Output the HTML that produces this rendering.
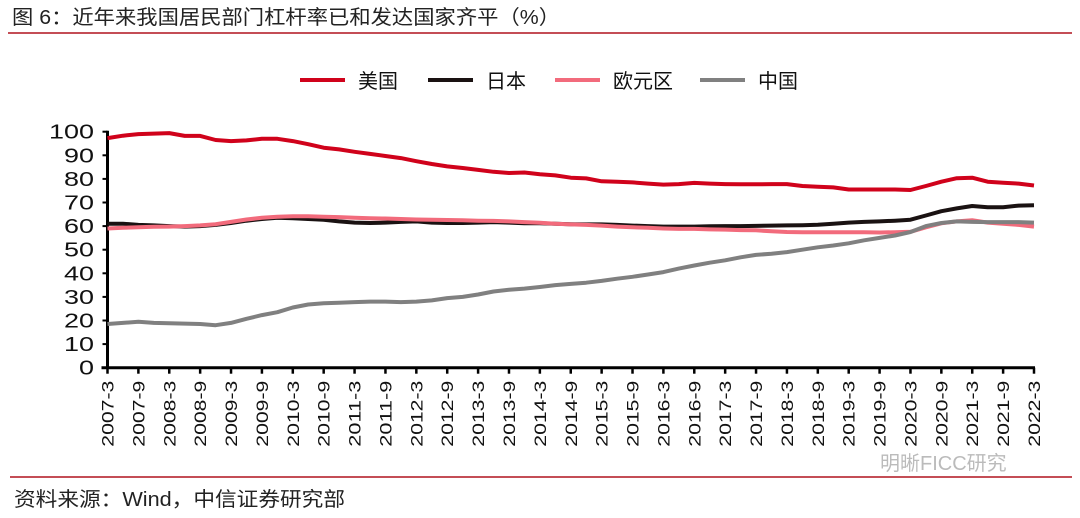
<!DOCTYPE html>
<html><head><meta charset="utf-8">
<style>
body{margin:0;background:#fff;width:1080px;height:518px;overflow:hidden;font-family:"Liberation Sans","Noto Sans CJK SC",sans-serif;}
svg{display:block}
</style></head>
<body>
<svg id="chart" width="1080" height="518">
<text x="12" y="24" font-size="20" fill="#222" textLength="548" lengthAdjust="spacingAndGlyphs" font-family="Liberation Sans, Noto Sans CJK SC, sans-serif">图 6：近年来我国居民部门杠杆率已和发达国家齐平（%）</text>
<line x1="8" y1="33" x2="1072" y2="33" stroke="#b0141e" stroke-width="1.5"/>
<line x1="10" y1="477" x2="1072" y2="477" stroke="#b0141e" stroke-width="1.5"/>
<text x="14" y="506" font-size="20" fill="#222" textLength="331" lengthAdjust="spacingAndGlyphs" font-family="Liberation Sans, Noto Sans CJK SC, sans-serif">资料来源：Wind，中信证券研究部</text>
<text x="880" y="470" font-size="20" fill="#bbb" font-family="Liberation Sans, Noto Sans CJK SC, sans-serif">明晰FICC研究</text>
<g id="legend"></g>
<g id="axes"></g>
<g id="series"></g>
</svg>
<script>
const seriesNames=["美国","日本","欧元区","中国"];
const usData=[97.3,98.3,99,99.2, 99.4,98.2,98.2,96.5, 96,96.3,97,97, 96,94.7,93.2,92.5, 91.5,90.6,89.7,88.8, 87.5,86.3,85.3,84.6, 83.8,83,82.5,82.7, 82,81.5,80.5,80.2, 79,78.8,78.5,78, 77.6,77.8,78.3,78, 77.8,77.7,77.7,77.8, 77.8,77,76.7,76.4, 75.5,75.5,75.5,75.5, 75.3,77,78.8,80.3, 80.5,78.8,78.4,78, 77.2];
const jpData=[61,61,60.5,60.3, 60,59.8,60,60.5, 61.3,62.3,63,63.5, 63.3,63,62.7,62, 61.5,61.3,61.5,61.8, 62,61.5,61.3,61.3, 61.5,61.7,61.5,61.2, 61.2,61,60.8,60.7, 60.7,60.5,60.2,60, 59.8,59.8,59.8,59.9, 60,60,60.1,60.2, 60.3,60.4,60.6,61, 61.5,61.8,62,62.3, 62.7,64.5,66.3,67.5, 68.5,68,68,68.7, 68.8];
const euData=[59,59.3,59.5,59.7, 59.8,60,60.3,60.8, 61.8,62.8,63.5,64, 64.2,64.2,64,63.8, 63.5,63.3,63.2,63, 62.8,62.7,62.6,62.5, 62.3,62.2,62,61.7, 61.4,61,60.7,60.5, 60.2,59.8,59.5,59.3, 59,58.8,58.8,58.6, 58.5,58.3,58.2,57.8, 57.5,57.4,57.4,57.4, 57.4,57.4,57.3,57.4, 57.6,59.5,61.2,62, 62.5,61.5,61,60.5, 59.8];
const cnData=[18.5,19,19.5,19, 18.8,18.7,18.5,18, 19,20.7,22.3,23.5, 25.5,26.8,27.3,27.5, 27.8,28,28,27.8, 28,28.5,29.5,30, 31,32.3,33,33.5, 34.2,35,35.5,36, 36.8,37.7,38.5,39.5, 40.5,42,43.3,44.5, 45.5,46.8,47.8,48.3, 49,50,51,51.8, 52.7,54,55,56, 57.5,60,61.3,62, 61.8,61.7,61.7,61.7, 61.5];
const yTicks=[0,10,20,30,40,50,60,70,80,90,100];
const startYear=2007;

const NS="http://www.w3.org/2000/svg";
const X0=107.5,X1=1034,Y0=367.7,Y1=131.7;
const nQ=usData.length;
function xs(i){return X0+(X1-X0)*i/(nQ-1);}
function ys(v){return Y0-(Y0-Y1)*v/100;}
function mk(tag,attrs,parent){const e=document.createElementNS(NS,tag);for(const k in attrs)e.setAttribute(k,attrs[k]);parent.appendChild(e);return e;}
const axes=document.getElementById('axes');
const yAxis=mk('line',{x1:X0,y1:Y1-1,x2:X0,y2:Y0,stroke:'#000','stroke-width':3},axes);


yTicks.forEach(t=>{
  const tk=mk('line',{x1:X0-5,y1:ys(t),x2:X0,y2:ys(t),stroke:'#000','stroke-width':2},axes);
  
  
  const s=String(t);
  const lb=mk('text',{x:94,y:ys(t)+7,'text-anchor':'end','font-size':20,fill:'#111',textLength:s.length*15,lengthAdjust:'spacingAndGlyphs'},axes);
  lb.textContent=s;
  
  
});
const xAxis=mk('line',{x1:X0-6,y1:Y0,x2:X1+1,y2:Y0,stroke:'#000','stroke-width':3},axes);


for(let i=0;i<nQ;i+=2){
  const x=xs(i);
  const tk=mk('line',{x1:x,y1:Y0,x2:x,y2:Y0+6,stroke:'#000','stroke-width':2.5},axes);
  
  
  const yr=startYear+Math.floor(i/4);const m=(i%4===0)?3:9;
  const lb=mk('text',{x:0,y:0,'text-anchor':'end','font-size':17,fill:'#111',textLength:66,lengthAdjust:'spacingAndGlyphs',transform:`translate(${x+6},${Y0+13}) rotate(-90)`},axes);
  lb.textContent=yr+'-'+m;
  
  
}
const colors=['#d0021b','#1a1212','#f26b7c','#808080'];
const datas=[usData,jpData,euData,cnData];
const sg=document.getElementById('series');
datas.forEach((d,k)=>{
  const p=d.map((v,i)=>(i?'L':'M')+xs(i).toFixed(1)+','+ys(v).toFixed(1)).join('');
  const path=mk('path',{d:p,fill:'none',stroke:colors[k],'stroke-width':4,'stroke-linejoin':'round'},sg);
  
  
});
const lg=document.getElementById('legend');
const lx=[300,428,555,700];
seriesNames.forEach((n,k)=>{
  const l=mk('line',{x1:lx[k],y1:80,x2:lx[k]+45,y2:80,stroke:colors[k],'stroke-width':4},lg);
  
  
  const t=mk('text',{x:lx[k]+58,y:88,'font-size':20,fill:'#111'},lg);
  t.textContent=n;
  
  
});
</script>
</body></html>
